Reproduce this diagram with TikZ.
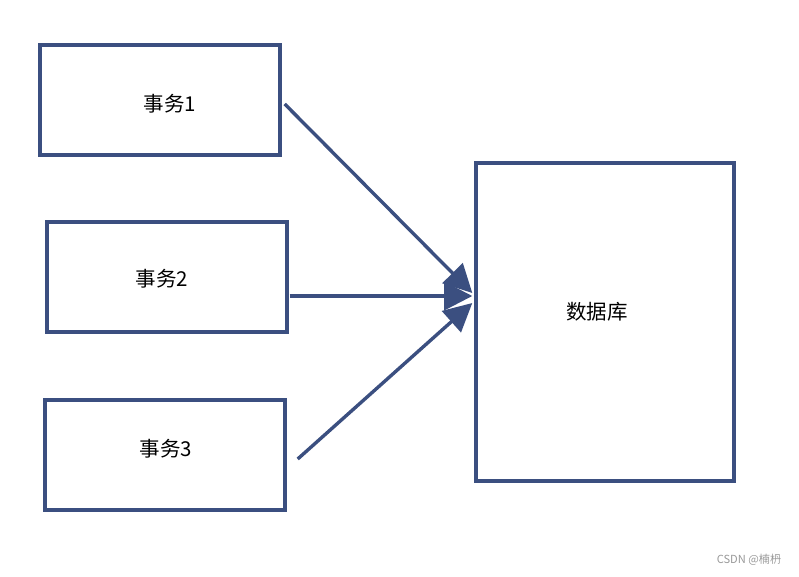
\documentclass[tikz,border=0pt]{standalone}
\usepackage{fontspec}
\setmainfont{Noto Sans CJK SC}
\usetikzlibrary{arrows.meta, positioning, calc}
\definecolor{boxblue}{RGB}{59,79,128}

\begin{document}
\begin{tikzpicture}[x=0.03cm, y=-0.03cm, >={Triangle[length=24pt,width=24pt]}]
    \useasboundingbox (0,0) rectangle (799,576);
    \tikzset{
        task/.style={draw=boxblue, line width=2.9pt, minimum width=7.2cm, minimum height=3.3cm},
        tasklabel/.style={font=\fontsize{17.5}{20}\selectfont},
        flow/.style={->, draw=boxblue, line width=2.9pt}
    }

    % Các giao dịch
    \node[task] (T1) at (160,100) {};
    \node[task] (T2) at (167,277) {};
    \node[task] (T3) at (165,455) {};
    \node[tasklabel] (L1) at ($(T1)+(10,4)$) {事务1};
    \node[tasklabel] (L2) at ($(T2)+(-5,2)$) {事务2};
    \node[tasklabel] (L3) at ($(T3)+(1,-6)$) {事务3};

    % Cơ sở dữ liệu
    \node[task, minimum width=7.74cm, minimum height=9.54cm] (DB) at (605,322) {};
    \node[tasklabel] (LD) at ($(DB)+(-8,-10)$) {数据库};

    % Mũi tên
    \draw[flow] ($(T1.east)+(3,4)$) -- ($(DB.west)+(-2,-29)$);
    \draw[flow] ($(T2.east)+(1,19)$) -- ($(DB.west)+(-2,-26)$);
    \draw[flow] ($(T3.east)+(11,4)$) -- ($(DB.west)+(-2,-19)$);

    % Chú thích
    \node[font=\fontsize{9.5}{11}\selectfont, text=gray!80] (mark) at (749,560) {CSDN @楠枬};
\end{tikzpicture}
\end{document}
